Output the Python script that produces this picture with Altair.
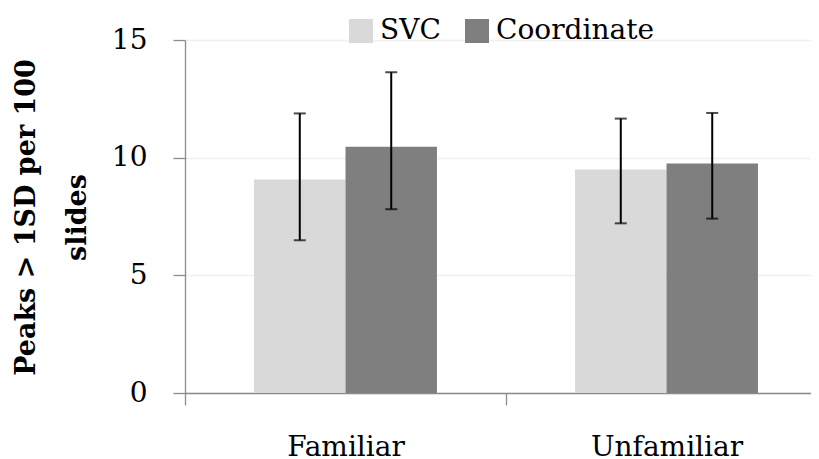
import altair as alt
import pandas as pd

categories = ["Familiar", "Familiar", "Unfamiliar", "Unfamiliar"]
groups = ["SVC", "Coordinate", "SVC", "Coordinate"]
means = [9.07, 10.46, 9.50, 9.75]
lows = [6.49, 7.81, 7.21, 7.41]
highs = [11.88, 13.63, 11.66, 11.90]
y_ticks = [0, 5, 10, 15]
category_order = ["Familiar", "Unfamiliar"]
group_order = ["SVC", "Coordinate"]
group_colors = ["#d9d9d9", "#7f7f7f"]
y_title = ["Peaks > 1SD per 100", "slides"]

df = pd.DataFrame({"category": categories, "group": groups,
                   "mean": means, "low": lows, "high": highs})

FONT = "DejaVu Serif"
AX = "#8c8c8c"

x = alt.X("category:N", title=None, sort=category_order,
          scale=alt.Scale(range=[0, 642], paddingInner=0, paddingOuter=0),
          axis=alt.Axis(labelAngle=0, labelFont=FONT, labelFontSize=28, labelColor="#000",
                        labelBaseline="alphabetic", labelPadding=50, tickSize=12,
                        tickBand="extent", tickColor=AX, tickWidth=1.3,
                        domainColor=AX, domainWidth=1.3, grid=False))
xo = alt.XOffset("group:N", sort=group_order,
                 scale=alt.Scale(paddingInner=0, paddingOuter=0.755))

y = alt.Y("mean:Q", scale=alt.Scale(domain=[0, 15], nice=False),
          axis=alt.Axis(values=y_ticks, title=y_title, labelFont=FONT, labelFontSize=28,
                        labelColor="#000", labelPadding=26, tickSize=12, tickColor=AX,
                        tickWidth=1.3, domainColor=AX, domainWidth=1.3,
                        gridColor="#efefef", gridWidth=1.3,
                        titleFont=FONT, titleFontSize=27, titleFontWeight="bold",
                        titleColor="#000", titleAngle=270, titleAlign="center",
                        titleBaseline="alphabetic", titleX=-151, titleY=177,
                        titleLineHeight=51))

color = alt.Color("group:N", sort=group_order,
                  scale=alt.Scale(domain=group_order, range=group_colors),
                  legend=alt.Legend(title=None, orient="none", legendX=162, legendY=-23,
                                    direction="horizontal", symbolType="square",
                                    symbolSize=576, symbolStrokeWidth=0, labelFont=FONT,
                                    labelFontSize=28, labelOffset=5, columnPadding=22,
                                    padding=0, labelColor="#000"))

base = alt.Chart(df)
bars = base.mark_bar().encode(x=x, xOffset=xo, y=y, color=color)
rules = base.mark_rule(color="black", strokeWidth=2).encode(
    x=x, xOffset=xo, y=alt.Y("low:Q"), y2="high:Q")
cap_lo = base.mark_tick(color="black", size=12, thickness=2, orient="horizontal").encode(
    x=x, xOffset=xo, y=alt.Y("low:Q"))
cap_hi = base.mark_tick(color="black", size=12, thickness=2, orient="horizontal").encode(
    x=x, xOffset=xo, y=alt.Y("high:Q"))

chart = alt.layer(bars, rules, cap_lo, cap_hi).properties(
    width=626, height=353,
    autosize=alt.AutoSizeParams(type="none"),
    padding={"left": 177, "top": 32, "right": 0, "bottom": 68},
    background="white",
).configure_view(stroke=None)

chart.save("out.html", embed_options={"renderer": "svg", "actions": False})
